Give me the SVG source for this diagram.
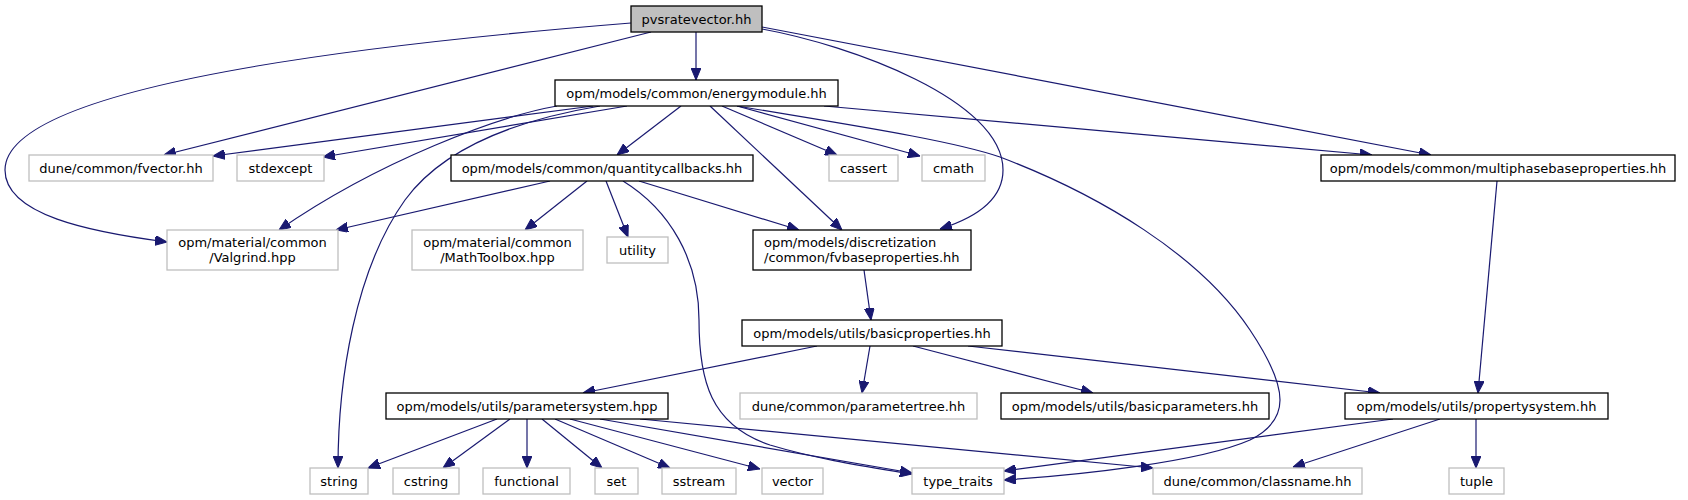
<svg xmlns="http://www.w3.org/2000/svg" width="1688" height="500" viewBox="0 0 1688 500">
<defs>
<marker id="ah" viewBox="0 0 12 10" refX="12" refY="5" markerWidth="12" markerHeight="10" markerUnits="userSpaceOnUse" orient="auto">
<path d="M0,0 L12,5 L0,10 z" fill="#191970" stroke="#191970"/>
</marker>
<style>
.n rect{fill:#fff;stroke:#000;stroke-width:1.3}
.g rect{fill:#fff;stroke:#bfbfbf;stroke-width:1.3}
.r rect{fill:#bfbfbf;stroke:#000;stroke-width:1.3}
text{font-family:"DejaVu Sans","Liberation Sans",sans-serif;font-size:13px;fill:#000;text-anchor:middle}
text.l{text-anchor:start}
#edges path{fill:none;stroke:#191970;stroke-width:1.2;marker-end:url(#ah)}
</style>
</defs>
<rect width="1688" height="500" fill="#fff"/>
<g id="edges">
<path d="M696,32 L696,80"/>
<path d="M651,32 L164,155"/>
<path d="M631,23 C420,40 5,80 5,170 C5,215 90,232 167,242"/>
<path d="M762,29 C850,45 1003,100 1003,170 C1003,200 975,218 940,229"/>
<path d="M762,27 L1431,155"/>
<path d="M593,106 L213,156"/>
<path d="M627,106 L323,157"/>
<path d="M557,106 C500,116 380,160 279,230"/>
<path d="M600,106 C505,122 440,152 405,200 C355,270 338,380 338,468"/>
<path d="M681,106 L617,155"/>
<path d="M710,106 L842,230"/>
<path d="M722,106 L837,155"/>
<path d="M737,106 L920,156"/>
<path d="M737,106 C850,125 950,140 1000,157 C1100,195 1200,255 1250,330 C1290,390 1290,420 1250,440 C1200,462 1080,475 1004,480"/>
<path d="M824,106 L1372,155"/>
<path d="M550,181 L336,230"/>
<path d="M587,181 L525,230"/>
<path d="M606,181 L628,237"/>
<path d="M639,181 L799,230"/>
<path d="M623,181 C670,210 699,260 699,320 C699,380 710,425 770,445 C820,460 870,467 912,474"/>
<path d="M864,270 L871,320"/>
<path d="M817,346 L583,393"/>
<path d="M870,346 L862,393"/>
<path d="M913,346 L1093,393"/>
<path d="M968,346 L1380,393"/>
<path d="M1497,181 L1478,393"/>
<path d="M497,419 L368,468"/>
<path d="M510,419 L443,468"/>
<path d="M527,419 L527,468"/>
<path d="M542,419 L602,468"/>
<path d="M555,419 L670,468"/>
<path d="M570,419 L760,469"/>
<path d="M600,419 L912,473"/>
<path d="M640,419 L1153,468"/>
<path d="M1393,419 L1004,471"/>
<path d="M1440,419 L1293,467"/>
<path d="M1476,419 L1476,468"/>
</g>
<g id="pvsratevector" class="r"><rect x="631" y="6" width="131" height="26"/><text x="696.5" y="23.5">pvsratevector.hh</text></g>
<g id="energymodule" class="n"><rect x="555" y="80" width="283" height="26"/><text x="696.5" y="97.5">opm/models/common/energymodule.hh</text></g>
<g id="fvector" class="g"><rect x="29" y="155" width="184" height="26"/><text x="121" y="172.5">dune/common/fvector.hh</text></g>
<g id="stdexcept" class="g"><rect x="237" y="155" width="87" height="26"/><text x="280.5" y="172.5">stdexcept</text></g>
<g id="quantitycallbacks" class="n"><rect x="451" y="155" width="302" height="26"/><text x="602" y="172.5">opm/models/common/quantitycallbacks.hh</text></g>
<g id="cassert" class="g"><rect x="829" y="155" width="69" height="26"/><text x="863.5" y="172.5">cassert</text></g>
<g id="cmath" class="g"><rect x="922" y="155" width="63" height="26"/><text x="953.5" y="172.5">cmath</text></g>
<g id="multiphasebaseproperties" class="n"><rect x="1321" y="155" width="354" height="26"/><text x="1498" y="172.5">opm/models/common/multiphasebaseproperties.hh</text></g>
<g id="valgrind" class="g"><rect x="167" y="230" width="171" height="40"/><text x="252.5" y="246.5">opm/material/common</text><text x="252.5" y="261.5">/Valgrind.hpp</text></g>
<g id="mathtoolbox" class="g"><rect x="412" y="230" width="171" height="40"/><text x="497.5" y="246.5">opm/material/common</text><text x="497.5" y="261.5">/MathToolbox.hpp</text></g>
<g id="utility" class="g"><rect x="607" y="237" width="61" height="26"/><text x="637.5" y="254.5">utility</text></g>
<g id="fvbaseproperties" class="n"><rect x="753" y="230" width="218" height="40"/><text class="l" x="764" y="246.5">opm/models/discretization</text><text class="l" x="764" y="261.5">/common/fvbaseproperties.hh</text></g>
<g id="basicproperties" class="n"><rect x="742" y="320" width="260" height="26"/><text x="872" y="337.5">opm/models/utils/basicproperties.hh</text></g>
<g id="parametersystem" class="n"><rect x="386" y="393" width="282" height="26"/><text x="527" y="410.5">opm/models/utils/parametersystem.hpp</text></g>
<g id="parametertree" class="g"><rect x="740" y="393" width="237" height="26"/><text x="858.5" y="410.5">dune/common/parametertree.hh</text></g>
<g id="basicparameters" class="n"><rect x="1001" y="393" width="268" height="26"/><text x="1135" y="410.5">opm/models/utils/basicparameters.hh</text></g>
<g id="propertysystem" class="n"><rect x="1345" y="393" width="263" height="26"/><text x="1476.5" y="410.5">opm/models/utils/propertysystem.hh</text></g>
<g id="string" class="g"><rect x="310" y="468" width="58" height="26"/><text x="339" y="485.5">string</text></g>
<g id="cstring" class="g"><rect x="393" y="468" width="66" height="26"/><text x="426" y="485.5">cstring</text></g>
<g id="functional" class="g"><rect x="483" y="468" width="87" height="26"/><text x="526.5" y="485.5">functional</text></g>
<g id="set" class="g"><rect x="595" y="468" width="43" height="26"/><text x="616.5" y="485.5">set</text></g>
<g id="sstream" class="g"><rect x="662" y="468" width="74" height="26"/><text x="699" y="485.5">sstream</text></g>
<g id="vector" class="g"><rect x="762" y="468" width="61" height="26"/><text x="792.5" y="485.5">vector</text></g>
<g id="type_traits" class="g"><rect x="912" y="468" width="92" height="26"/><text x="958" y="485.5">type_traits</text></g>
<g id="classname" class="g"><rect x="1153" y="468" width="209" height="26"/><text x="1257.5" y="485.5">dune/common/classname.hh</text></g>
<g id="tuple" class="g"><rect x="1449" y="468" width="55" height="26"/><text x="1476.5" y="485.5">tuple</text></g>
</svg>
